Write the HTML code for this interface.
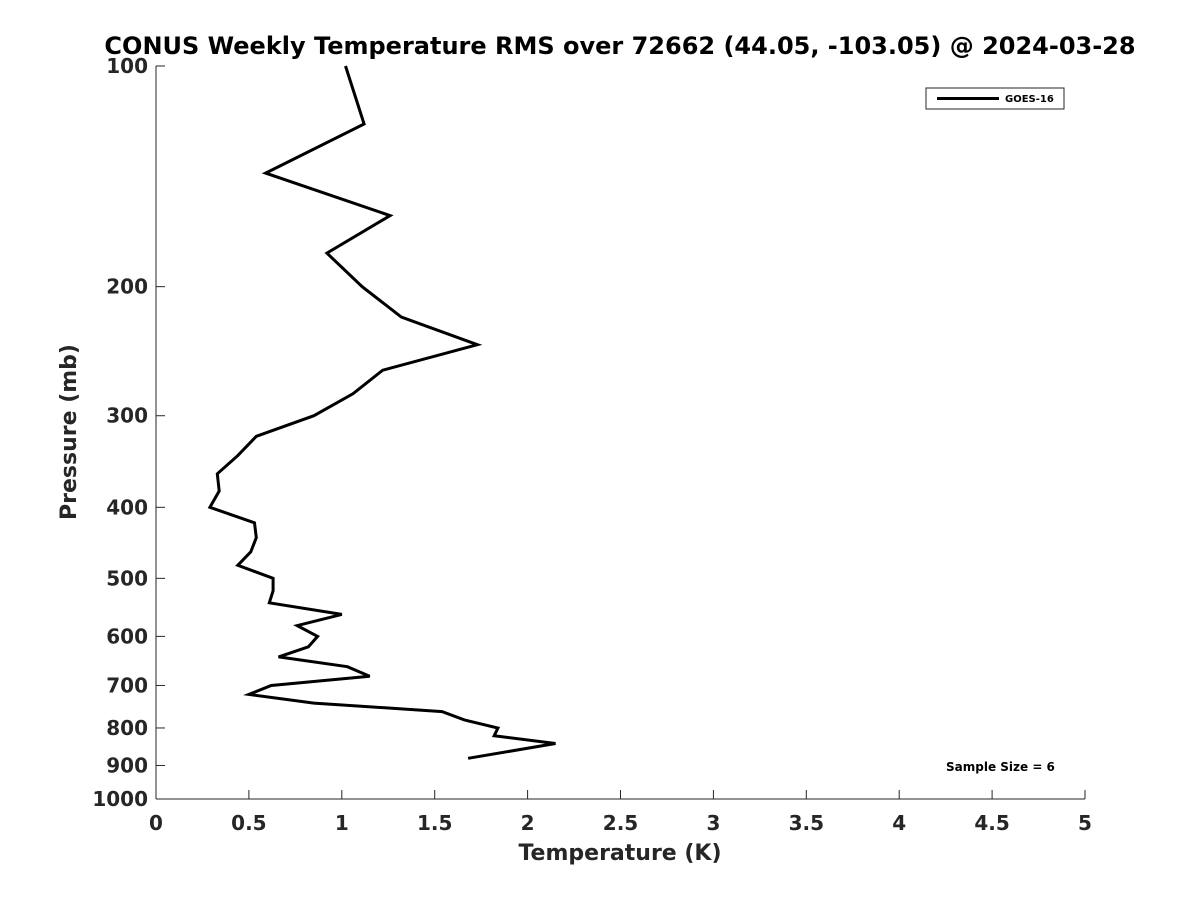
<!DOCTYPE html>
<html><head><meta charset="utf-8"><style>
body{margin:0;background:#fff;font-family:"Liberation Sans","DejaVu Sans",sans-serif;}
svg text{font-family:"DejaVu Sans","Liberation Sans",sans-serif;font-weight:bold;fill:#262626;}
</style></head><body>
<svg id="chart" width="1200" height="900" xmlns="http://www.w3.org/2000/svg">
<rect width="1200" height="900" fill="#fff"/>
<text x="620" y="54" text-anchor="middle" font-size="24" style="fill:#000">CONUS Weekly Temperature RMS over 72662 (44.05, -103.05) @ 2024-03-28</text>
<g id="axes"></g>
<path id="line" fill="none" stroke="#000" stroke-width="3" stroke-linejoin="miter"/>
<g>
<rect x="926" y="88" width="138" height="21" fill="#fff" stroke="#262626" stroke-width="1"/>
<line x1="937" y1="98.5" x2="999" y2="98.5" stroke="#000" stroke-width="3"/>
<text x="1005" y="102" font-size="10" style="fill:#000">GOES-16</text>
</g>
<text x="946" y="771" font-size="12" style="fill:#000">Sample Size = 6</text>
<text x="620" y="860" text-anchor="middle" font-size="22">Temperature (K)</text>
<text transform="translate(76,432) rotate(-90)" text-anchor="middle" font-size="22">Pressure (mb)</text>
</svg>
<script>
const temps=[1.02,1.12,0.59,1.26,0.92,1.11,1.32,1.73,1.22,1.06,0.85,0.54,0.44,0.33,0.34,0.29,0.53,0.54,0.51,0.44,0.63,0.63,0.61,1.00,0.76,0.87,0.82,0.66,1.03,1.15,0.62,0.50,0.85,1.54,1.66,1.84,1.82,2.15,1.68];
const pressures=[100,120,140,160,180,200,220,240,260,280,300,320,340,360,380,400,420,440,460,480,500,520,540,560,580,600,620,640,660,680,700,720,740,760,780,800,820,840,880];
const xTicks=[0,0.5,1,1.5,2,2.5,3,3.5,4,4.5,5];
const xTickLabels=["0","0.5","1","1.5","2","2.5","3","3.5","4","4.5","5"];
const yTicks=[100,200,300,400,500,600,700,800,900,1000];
const x0=156,x1=1085,y0=66,y1=799;
const xs=v=>x0+(v-0)/(5-0)*(x1-x0);
const ys=p=>y0+(Math.log10(p)-2)/(3-2)*(y1-y0);
const NS="http://www.w3.org/2000/svg";
const ax=document.getElementById('axes');
function mk(t,a){const e=document.createElementNS(NS,t);for(const k in a)e.setAttribute(k,a[k]);ax.appendChild(e);return e;}
let e=mk('line',{x1:x0,y1:y1,x2:x1,y2:y1,stroke:'#262626','stroke-width':1});


e=mk('line',{x1:x0,y1:y0,x2:x0,y2:y1,stroke:'#262626','stroke-width':1});


xTicks.forEach((v,i)=>{
 mk('line',{x1:xs(v),y1:y1,x2:xs(v),y2:y1-9,stroke:'#262626'});
 const t=mk('text',{x:xs(v),y:y1+31,'text-anchor':'middle','font-size':20});
 t.textContent=xTickLabels[i];
 
 
});
yTicks.forEach(p=>{
 mk('line',{x1:x0,y1:ys(p),x2:x0+9,y2:ys(p),stroke:'#262626'});
 const t=mk('text',{x:x0-8,y:ys(p)+7,'text-anchor':'end','font-size':20});
 t.textContent=String(p);
 
 
});
document.getElementById('line').setAttribute('d',temps.map((v,i)=>(i?'L':'M')+xs(v).toFixed(1)+','+ys(pressures[i]).toFixed(1)).join(' '));
</script>
</body></html>
